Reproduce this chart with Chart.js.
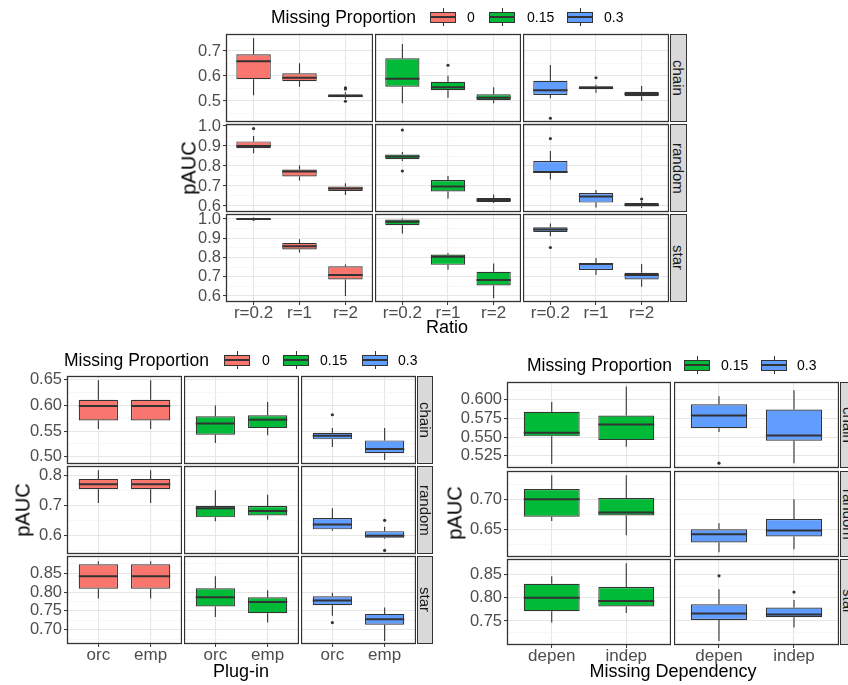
<!DOCTYPE html>
<html>
<head>
<meta charset="utf-8">
<script src="https://cdn.jsdelivr.net/npm/chart.js@4.4.0/dist/chart.umd.min.js"></script>
<style>
  body { margin: 0; width: 848px; height: 685px; overflow: hidden; background: #fff; position: relative;
         font-family: "Liberation Sans", Arial, sans-serif; }
  canvas { position: absolute; }
  .strip { position: absolute; background: #D9D9D9; border: 1px solid #333; box-sizing: border-box;
           display: flex; align-items: center; justify-content: center; }
  .strip span { writing-mode: vertical-rl; font-size: 15px; color: #1A1A1A; }
  .txt { position: absolute; white-space: nowrap; color: #000; transform: translate(0, -50%); }
  .xtitle { position: absolute; white-space: nowrap; font-size: 18px; transform: translate(-50%, -50%); }
  .ytitle { position: absolute; white-space: nowrap; font-size: 20px; transform: translate(-50%, -50%) rotate(-90deg); }
  .key { position: absolute; width: 26px; height: 18px; transform: translate(0, -50%); }
  .key .w { position: absolute; left: 12.5px; top: 0; width: 1px; height: 18px; background: #333; }
  .key .b { position: absolute; left: 0; top: 3.5px; width: 26px; height: 11px; border: 1px solid #333; box-sizing: border-box; }
  .key .m { position: absolute; left: 0; top: 8.3px; width: 26px; height: 1.4px; background: #333; }
</style>
</head>
<body>
<script>
// categories
const structures = ['chain', 'random', 'star'];
const ratioLabels = ['r=0.2', 'r=1', 'r=2'];
const plugLabels = ['orc', 'emp'];
const depLabels = ['depen', 'indep'];
const propNames = ['0', '0.15', '0.3'];
const propColors = ['#F8766D', '#00BA38', '#619CFF'];

// [lower whisker, Q1, median, Q3, upper whisker], one list per missing proportion
const ratioChain = [
  [[0.523, 0.587, 0.659, 0.687, 0.751], [0.557, 0.579, 0.593, 0.611, 0.651], [0.508, 0.515, 0.520, 0.527, 0.535]],
  [[0.491, 0.557, 0.589, 0.671, 0.728], [0.513, 0.543, 0.555, 0.577, 0.601], [0.491, 0.503, 0.513, 0.527, 0.555]],
  [[0.511, 0.524, 0.543, 0.581, 0.644], [0.533, 0.547, 0.553, 0.559, 0.565], [0.501, 0.519, 0.528, 0.537, 0.560]]
];
const ratioChainOut = [[[], [], [0.548, 0.553, 0.499]], [[], [0.643], []], [[0.431], [0.593], []]];
const ratioRandom = [
  [[0.864, 0.889, 0.900, 0.923, 0.950], [0.727, 0.748, 0.772, 0.782, 0.803], [0.655, 0.675, 0.687, 0.698, 0.714]],
  [[0.825, 0.834, 0.847, 0.858, 0.870], [0.638, 0.673, 0.697, 0.730, 0.750], [0.615, 0.620, 0.630, 0.640, 0.658]],
  [[0.733, 0.765, 0.770, 0.825, 0.875], [0.592, 0.617, 0.647, 0.665, 0.680], [0.590, 0.598, 0.605, 0.615, 0.625]]
];
const ratioRandomOut = [[[0.987], [], []], [[0.980, 0.775], [], []], [[0.937], [], [0.635]]];
const ratioStar = [
  [[0.997, 0.9985, 0.9995, 1.0005, 1.001], [0.826, 0.842, 0.859, 0.876, 0.895], [0.600, 0.686, 0.709, 0.755, 0.764]],
  [[0.925, 0.968, 0.986, 0.997, 1.003], [0.736, 0.762, 0.804, 0.816, 0.823], [0.588, 0.655, 0.683, 0.726, 0.769]],
  [[0.911, 0.933, 0.946, 0.957, 0.977], [0.709, 0.735, 0.766, 0.771, 0.797], [0.648, 0.686, 0.709, 0.721, 0.766]]
];
const ratioStarOut = [[[0.999], [], []], [[], [], []], [[0.852], [], []]];

const plugChain = [
  [[0.554, 0.571, 0.599, 0.611, 0.649], [0.554, 0.571, 0.599, 0.611, 0.649]],
  [[0.527, 0.543, 0.565, 0.579, 0.600], [0.542, 0.556, 0.572, 0.581, 0.607]],
  [[0.519, 0.534, 0.541, 0.547, 0.556], [0.494, 0.507, 0.515, 0.532, 0.556]]
];
const plugChainOut = [[[], []], [[], []], [[0.582], []]];
const plugRandom = [
  [[0.709, 0.755, 0.771, 0.789, 0.818], [0.709, 0.755, 0.771, 0.789, 0.818]],
  [[0.648, 0.661, 0.691, 0.699, 0.751], [0.653, 0.667, 0.682, 0.699, 0.736]],
  [[0.616, 0.621, 0.637, 0.659, 0.691], [0.590, 0.593, 0.600, 0.615, 0.630]]
];
const plugRandomOut = [[[], []], [[], []], [[], [0.651, 0.551]]];
const plugStar = [
  [[0.783, 0.809, 0.842, 0.874, 0.882], [0.783, 0.809, 0.842, 0.874, 0.882]],
  [[0.734, 0.762, 0.786, 0.810, 0.842], [0.719, 0.744, 0.774, 0.786, 0.805]],
  [[0.737, 0.765, 0.778, 0.789, 0.798], [0.670, 0.713, 0.728, 0.742, 0.759]]
];
const plugStarOut = [[[], []], [[], []], [[0.719], []]];

const depChain = [
  [[0.514, 0.551, 0.556, 0.584, 0.597], [0.537, 0.546, 0.567, 0.579, 0.618]],
  [[0.557, 0.562, 0.579, 0.594, 0.605], [0.515, 0.545, 0.552, 0.587, 0.613]]
];
const depChainOut = [[[], []], [[0.515], []]];
const depRandom = [
  [[0.664, 0.671, 0.700, 0.717, 0.740], [0.640, 0.673, 0.678, 0.702, 0.740]],
  [[0.612, 0.628, 0.642, 0.650, 0.660], [0.617, 0.638, 0.648, 0.667, 0.700]]
];
const depRandomOut = [[[], []], [[], []]];
const depStar = [
  [[0.747, 0.771, 0.800, 0.830, 0.846], [0.767, 0.781, 0.793, 0.823, 0.874]],
  [[0.707, 0.752, 0.766, 0.786, 0.818], [0.736, 0.758, 0.764, 0.779, 0.795]]
];
const depStarOut = [[[], []], [[0.847], [0.812]]];

// y ranges and tick labels per row (chain, random, star)
const ratioRanges = [[0.416, 0.768], [0.570, 1.010], [0.569, 1.026]];
const ratioTicks = [['0.5', '0.6', '0.7'], ['0.6', '0.7', '0.8', '0.9', '1.0'], ['0.6', '0.7', '0.8', '0.9', '1.0']];
const plugRanges = [[0.486, 0.6575], [0.539, 0.832], [0.662, 0.896]];
const plugTicks = [['0.50', '0.55', '0.60', '0.65'], ['0.6', '0.7', '0.8'], ['0.70', '0.75', '0.80', '0.85']];
const depRanges = [[0.5085, 0.624], [0.604, 0.747], [0.6985, 0.883]];
const depTicks = [['0.525', '0.550', '0.575', '0.600'], ['0.65', '0.70'], ['0.75', '0.80', '0.85']];

Chart.defaults.font.family = '"Liberation Sans", Arial, sans-serif';

const INK = '#333333';
const TICK_TXT = '#4D4D4D';
const MAJOR = '#E6E6E6';
const MINOR = '#F3F3F3';

// whiskers, medians and panel border
function boxPlugin(stats) {
  return {
    id: 'boxes',
    beforeDatasetsDraw(chart) {
      const meta = chart.getDatasetMeta(0);
      const y = chart.scales.y;
      const ctx = chart.ctx;
      ctx.save();
      ctx.strokeStyle = INK;
      ctx.lineWidth = 1.1;
      stats.forEach((s, i) => {
        const x = meta.data[i].x;
        ctx.beginPath();
        ctx.moveTo(x, y.getPixelForValue(s[0]));
        ctx.lineTo(x, y.getPixelForValue(s[1]));
        ctx.moveTo(x, y.getPixelForValue(s[3]));
        ctx.lineTo(x, y.getPixelForValue(s[4]));
        ctx.stroke();
      });
      ctx.restore();
    },
    afterDatasetsDraw(chart) {
      const meta = chart.getDatasetMeta(0);
      const y = chart.scales.y;
      const ctx = chart.ctx;
      const a = chart.chartArea;
      ctx.save();
      ctx.strokeStyle = INK;
      ctx.lineWidth = 2;
      stats.forEach((s, i) => {
        const bar = meta.data[i];
        const py = y.getPixelForValue(s[2]);
        ctx.beginPath();
        ctx.moveTo(bar.x - bar.width / 2, py);
        ctx.lineTo(bar.x + bar.width / 2, py);
        ctx.stroke();
      });
      ctx.lineWidth = 1.3;
      ctx.strokeRect(a.left + 0.5, a.top + 0.5, a.width - 1, a.height - 1);
      ctx.restore();
    }
  };
}

function makeFacet(p, r, c) {
  const [x0, x1] = p.cols[c];
  const [y0, y1] = p.rows[r];
  const isLeft = c === 0;
  const isBottom = r === p.rows.length - 1;
  const yw = isLeft ? p.yw : 0;
  const xh = isBottom ? p.xh : 0;
  const pad = 12;
  const canvas = document.createElement('canvas');
  canvas.width = x1 - x0 + yw;
  canvas.height = y1 - y0 + 2 * pad + xh;
  canvas.style.left = (x0 - yw) + 'px';
  canvas.style.top = (y0 - pad) + 'px';
  document.body.appendChild(canvas);

  const stats = p.boxes[r][c];
  const outs = p.outs[r][c];
  const color = propColors[p.props[c]];
  const labels = p.labels;
  const [ymin, ymax] = p.ranges[r];
  const majorLabels = p.ticks[r];
  const majors = majorLabels.map(Number);
  const half = (majors[1] - majors[0]) / 2;
  const gridVals = [];
  for (let k = -1; k < 2 * majors.length + 2; k++) {
    const v = +(majors[0] + k * half).toFixed(5);
    if (v >= ymin && v <= ymax) gridVals.push(v);
  }
  const isMajor = v => majors.some(m => Math.abs(m - v) < 1e-6);

  new Chart(canvas, {
    type: 'bar',
    data: {
      datasets: [{
        data: stats.map((s, i) => ({ x: i, y: [s[1], s[3]] })),
        backgroundColor: color,
        borderColor: INK,
        borderWidth: 1.2,
        borderSkipped: false,
        barPercentage: 0.75,
        categoryPercentage: 1
      }, {
        type: 'line',
        data: outs.flatMap((vals, i) => vals.map(v => ({ x: i, y: v }))),
        showLine: false,
        pointRadius: 1.6,
        pointBackgroundColor: INK,
        pointBorderWidth: 0,
        clip: false
      }]
    },
    options: {
      responsive: false,
      animation: false,
      events: [],
      layout: { autoPadding: false, padding: { top: pad, bottom: pad, left: 0, right: 0 } },
      plugins: { legend: { display: false }, tooltip: { enabled: false } },
      scales: {
        x: {
          type: 'linear',
          offset: false,
          min: -0.6,
          max: labels.length - 0.4,
          afterBuildTicks: s => { s.ticks = labels.map((_, i) => ({ value: i })); },
          afterFit: s => { s.height = xh; s.paddingLeft = 0; s.paddingRight = 0; },
          ticks: { display: isBottom, autoSkip: false, maxRotation: 0, padding: -2,
                   color: TICK_TXT, font: { size: 17 }, callback: v => labels[v] },
          grid: { offset: false, color: MAJOR, lineWidth: 1.1, drawTicks: isBottom, tickLength: 3,
                  tickColor: INK, tickWidth: 1 },
          border: { display: false }
        },
        y: {
          min: ymin,
          max: ymax,
          afterBuildTicks: s => { s.ticks = gridVals.map(v => ({ value: v })); },
          afterFit: s => { s.width = yw; s.paddingTop = 0; s.paddingBottom = 0; },
          ticks: {
            display: isLeft, autoSkip: false, padding: 2, color: TICK_TXT, font: { size: 16.5 },
            callback: v => {
              const k = majors.findIndex(m => Math.abs(m - v) < 1e-6);
              return k < 0 ? '' : majorLabels[k];
            }
          },
          grid: {
            color: ctx => (ctx.tick && isMajor(ctx.tick.value)) ? MAJOR : MINOR,
            lineWidth: ctx => (ctx.tick && isMajor(ctx.tick.value)) ? 1.1 : 0.7,
            drawTicks: isLeft,
            tickLength: 3,
            tickColor: ctx => (ctx.tick && isMajor(ctx.tick.value)) ? INK : 'rgba(0,0,0,0)',
            tickWidth: 1
          },
          border: { display: false }
        }
      }
    },
    plugins: [boxPlugin(stats)]
  });
}

function addText(cls, x, y, text, extra) {
  const d = document.createElement('div');
  d.className = cls;
  d.style.left = x + 'px';
  d.style.top = y + 'px';
  if (extra) d.style.cssText += extra;
  d.textContent = text;
  document.body.appendChild(d);
}

function addLegend(lg, props) {
  addText('txt', lg.x, lg.y, 'Missing Proportion', 'font-size:17.5px');
  props.forEach((pi, k) => {
    const key = document.createElement('div');
    key.className = 'key';
    key.style.left = lg.keys[k] + 'px';
    key.style.top = lg.y + 'px';
    key.innerHTML = '<div class="w"></div><div class="b" style="background:' + propColors[pi] +
      '"></div><div class="m"></div>';
    document.body.appendChild(key);
    addText('txt', lg.labs[k], lg.y, propNames[pi], 'font-size:14px');
  });
}

const panels = [
  {
    cols: [[226, 373], [375, 521], [523, 669]], rows: [[34, 122], [124, 212], [214, 302]],
    strip: [670, 687], yw: 34, xh: 30, labels: ratioLabels, props: [0, 1, 2],
    boxes: [ratioChain, ratioRandom, ratioStar], outs: [ratioChainOut, ratioRandomOut, ratioStarOut],
    ranges: ratioRanges, ticks: ratioTicks,
    xtitle: { x: 447, y: 327, text: 'Ratio' }, ytitle: { x: 189, y: 168 },
    legend: { x: 271, y: 17, keys: [430, 489, 567], labs: [467, 527, 604] }
  },
  {
    cols: [[67, 182], [184, 299], [301, 416]], rows: [[376, 464], [466, 554], [556, 644]],
    strip: [417, 433], yw: 42, xh: 30, labels: plugLabels, props: [0, 1, 2],
    boxes: [plugChain, plugRandom, plugStar], outs: [plugChainOut, plugRandomOut, plugStarOut],
    ranges: plugRanges, ticks: plugTicks,
    xtitle: { x: 241, y: 671, text: 'Plug-in' }, ytitle: { x: 23, y: 510 },
    legend: { x: 64, y: 360, keys: [224, 283, 362], labs: [262, 320, 398] }
  },
  {
    cols: [[507, 671], [674, 839]], rows: [[382, 468], [471, 557], [559, 645]],
    strip: [840, 857], yw: 50, xh: 30, labels: depLabels, props: [1, 2],
    boxes: [depChain, depRandom, depStar], outs: [depChainOut, depRandomOut, depStarOut],
    ranges: depRanges, ticks: depTicks,
    xtitle: { x: 673, y: 671, text: 'Missing Dependency' }, ytitle: { x: 455, y: 513 },
    legend: { x: 527, y: 365, keys: [684, 761], labs: [721, 797] }
  }
];

panels.forEach(p => {
  p.rows.forEach((row, r) => {
    p.cols.forEach((col, c) => makeFacet(p, r, c));
    const s = document.createElement('div');
    s.className = 'strip';
    s.style.left = p.strip[0] + 'px';
    s.style.top = row[0] + 'px';
    s.style.width = (p.strip[1] - p.strip[0]) + 'px';
    s.style.height = (row[1] - row[0]) + 'px';
    s.innerHTML = '<span>' + structures[r] + '</span>';
    document.body.appendChild(s);
  });
  addText('xtitle', p.xtitle.x, p.xtitle.y, p.xtitle.text);
  addText('ytitle', p.ytitle.x, p.ytitle.y, 'pAUC');
  addLegend(p.legend, p.props);
});
</script>
</body>
</html>
